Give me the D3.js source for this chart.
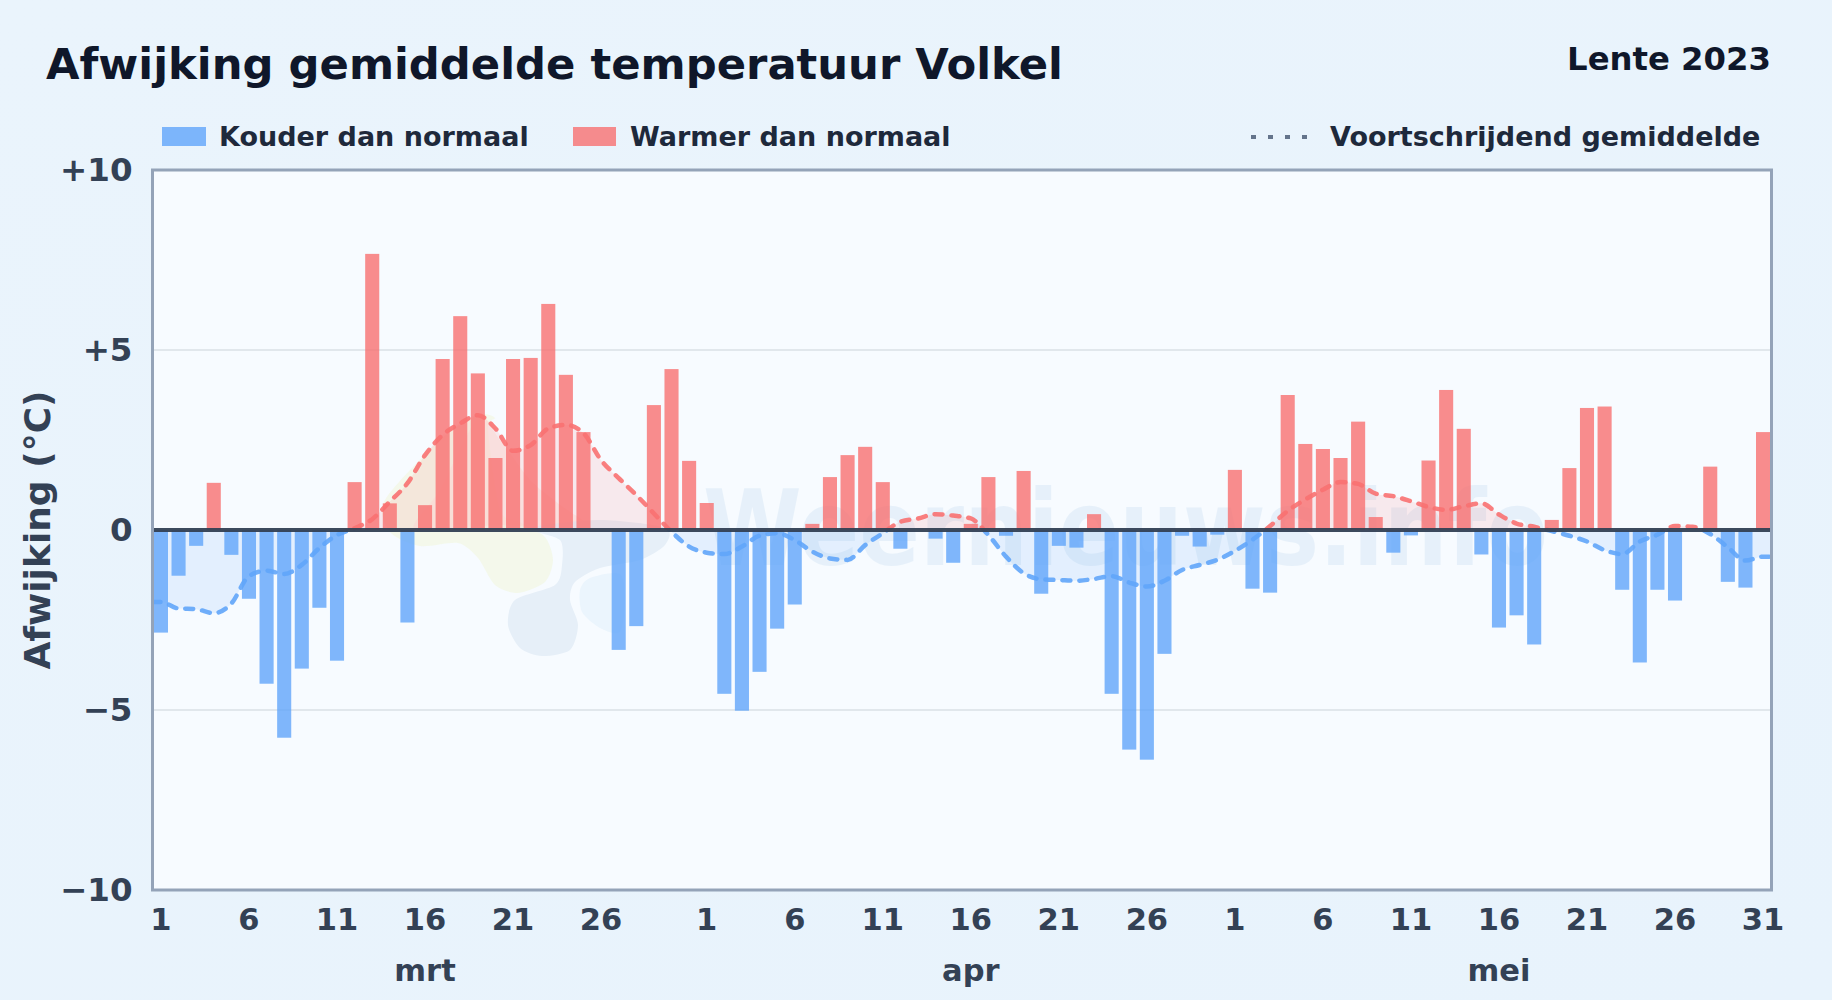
<!DOCTYPE html>
<html lang="nl">
<head>
<meta charset="utf-8">
<title>Afwijking gemiddelde temperatuur Volkel</title>
<script src="https://cdn.jsdelivr.net/npm/d3@7/dist/d3.min.js"></script>
<style>
html,body{margin:0;padding:0;background:#e9f3fc;}
svg{display:block;font-family:"DejaVu Sans",sans-serif;font-weight:700;}
</style>
</head>
<body>
<svg id="chart" width="1832" height="1000"></svg>
<script>
const months = ["mrt", "apr", "mei"];
const monthLengths = [31, 30, 31];
const labelledDaysMar = [1, 6, 11, 16, 21, 26];
const labelledDaysApr = [1, 6, 11, 16, 21, 26];
const labelledDaysMei = [1, 6, 11, 16, 21, 26, 31];
const yTicks = [-10, -5, 0, 5, 10];
const gridValues = [-5, 5];

const deviationMar = [-2.85,-1.27,-0.44,1.31,-0.69,-1.91,-4.27,-5.77,-3.85,-2.16,-3.63,1.33,7.67,0.74,-2.57,0.69,4.75,5.94,4.35,2.0,4.75,4.78,6.28,4.31,2.72,0,-3.33,-2.67,3.47,4.47,1.92];
const deviationApr = [0.75,-4.55,-5.02,-3.94,-2.74,-2.07,0.17,1.47,2.08,2.31,1.33,-0.52,0,-0.24,-0.91,0.17,1.47,-0.16,1.64,-1.77,-0.44,-0.49,0.44,-4.55,-6.1,-6.38,-3.44,-0.16,-0.46,-0.13];
const deviationMei = [1.67,-1.63,-1.74,3.75,2.39,2.25,2.0,3.01,0.36,-0.63,-0.15,1.93,3.89,2.81,-0.68,-2.71,-2.37,-3.18,0.28,1.72,3.39,3.43,-1.66,-3.68,-1.66,-1.96,0,1.76,-1.44,-1.6,2.72];

const trendMar = [-2.0,-2.18,-2.2,-2.31,-2.04,-1.28,-1.13,-1.22,-0.97,-0.5,-0.14,0.05,0.3,0.79,1.3,2.08,2.64,2.96,3.19,2.82,2.2,2.36,2.82,2.92,2.69,1.94,1.44,0.97,0.46,-0.05,-0.46];
const trendApr = [-0.63,-0.67,-0.46,-0.16,-0.09,-0.28,-0.6,-0.79,-0.83,-0.42,-0.09,0.23,0.32,0.44,0.4,0.32,-0.14,-0.74,-1.2,-1.37,-1.39,-1.41,-1.36,-1.28,-1.46,-1.57,-1.41,-1.11,-0.97,-0.83];
const trendMei = [-0.58,-0.27,0.11,0.53,0.85,1.12,1.33,1.28,1.01,0.94,0.8,0.64,0.56,0.66,0.74,0.43,0.18,0.09,-0.03,-0.16,-0.32,-0.56,-0.67,-0.32,-0.13,0.11,0.09,-0.11,-0.48,-0.85,-0.74];

const titleText = "Afwijking gemiddelde temperatuur Volkel";
const seasonText = "Lente 2023";
const yAxisText = "Afwijking (°C)";
const legendCold = "Kouder dan normaal";
const legendWarm = "Warmer dan normaal";
const legendTrend = "Voortschrijdend gemiddelde";
const watermarkText = "Weernieuws.info";

const blue = "#60a5fa", red = "#f87171";
const plot = {left: 152.5, right: 1771.5, top: 170, bottom: 890};

const deviation = [...deviationMar, ...deviationApr, ...deviationMei];
const trend = [...trendMar, ...trendApr, ...trendMei];
const labelled = {mrt: labelledDaysMar, apr: labelledDaysApr, mei: labelledDaysMei};
const days = [];
months.forEach((m, mi) => { for (let d = 1; d <= monthLengths[mi]; d++) days.push({month: m, day: d, key: m + d}); });
days.forEach((d, i) => { d.dev = deviation[i]; d.trend = trend[i]; });

const svg = d3.select("#chart");
const defs = svg.append("defs");
const bgGrad = defs.append("linearGradient").attr("id", "bg").attr("x1", 0).attr("y1", 0).attr("x2", 1).attr("y2", 1);
bgGrad.append("stop").attr("offset", 0).attr("stop-color", "#eaf4fc");
bgGrad.append("stop").attr("offset", 1).attr("stop-color", "#e8f3fc");

const x = d3.scaleBand().domain(days.map(d => d.key)).range([plot.left, plot.right]).paddingInner(0.2).paddingOuter(0.08);
const y = d3.scaleLinear().domain([-10, 10]).range([plot.bottom, plot.top]);
const cx = k => x(k) + x.bandwidth() / 2;

svg.append("rect").attr("width", 1832).attr("height", 1000).attr("fill", "url(#bg)");
svg.append("rect").attr("x", plot.left).attr("y", plot.top).attr("width", plot.right - plot.left).attr("height", plot.bottom - plot.top).attr("fill", "#f7fbff");

defs.append("clipPath").attr("id", "above").append("rect").attr("x", plot.left).attr("y", plot.top).attr("width", plot.right - plot.left).attr("height", y(0) - plot.top);
defs.append("clipPath").attr("id", "below").append("rect").attr("x", plot.left).attr("y", y(0)).attr("width", plot.right - plot.left).attr("height", plot.bottom - y(0));

// faint logo and wordmark behind the chart
const blob = d3.line().curve(d3.curveCardinalClosed.tension(0.2));
const logoShapes = [
  {fill: "#f2f8e6", o: 0.8, pts: [[385,500],[390,532],[420,546],[458,543],[478,558],[495,585],[518,593],[545,582],[553,560],[545,537],[520,522],[500,510],[488,430],[495,418],[478,415],[440,440]]},
  {fill: "#fbe8e2", o: 0.6, pts: [[415,530],[440,490],[478,418],[500,440],[530,480],[560,505],[590,530],[500,525]]},
  {fill: "#e6eff8", o: 1, pts: [[530,528],[560,540],[562,565],[555,585],[515,600],[508,625],[520,648],[542,656],[570,650],[578,625],[570,600],[575,582],[600,568],[640,560],[665,545],[665,528],[600,520]]},
  {fill: "#ebf5fd", o: 1, pts: [[580,590],[590,578],[620,574],[625,600],[620,632],[600,628],[582,612]]}
];
svg.append("g").selectAll("path").data(logoShapes).join("path")
  .attr("d", d => blob(d.pts)).attr("fill", d => d.fill).attr("opacity", d => d.o);
svg.append("text").attr("x", 703).attr("y", 565).attr("font-size", 105).attr("fill", "#4a90d0").attr("opacity", 0.09)
  .attr("textLength", 845).attr("lengthAdjust", "spacingAndGlyphs").text(watermarkText);

// grid
svg.append("g").selectAll("line").data(gridValues).join("line")
  .attr("x1", plot.left).attr("x2", plot.right).attr("y1", d => y(d)).attr("y2", d => y(d))
  .attr("stroke", "#e1e7ec").attr("stroke-width", 2);

// running-mean area and bars
const lineX = (d, i) => i === 0 ? plot.left : i === days.length + 1 ? plot.right : cx(days[i - 1].key);
const trendPts = [days[0].trend, ...trend, days[days.length - 1].trend];
const area = d3.area().x((d, i) => lineX(d, i)).y0(y(0)).y1(d => y(d)).curve(d3.curveMonotoneX);
const line = d3.line().x((d, i) => lineX(d, i)).y(d => y(d)).curve(d3.curveMonotoneX);
svg.append("path").attr("d", area(trendPts)).attr("fill", red).attr("opacity", 0.13).attr("clip-path", "url(#above)");
svg.append("path").attr("d", area(trendPts)).attr("fill", blue).attr("opacity", 0.13).attr("clip-path", "url(#below)");

svg.append("g").selectAll("rect").data(days.filter(d => d.dev !== 0)).join("rect")
  .attr("x", d => x(d.key)).attr("width", x.bandwidth())
  .attr("y", d => y(Math.max(0, d.dev)))
  .attr("height", d => Math.abs(y(d.dev) - y(0)))
  .attr("fill", d => d.dev < 0 ? blue : red).attr("opacity", 0.8);

[["url(#above)", red], ["url(#below)", blue]].forEach(([clip, color]) => {
  svg.append("path").attr("d", line(trendPts)).attr("fill", "none").attr("stroke", color).attr("stroke-width", 4.5)
    .attr("stroke-dasharray", "8 9").attr("stroke-linecap", "round").attr("opacity", 0.9).attr("clip-path", clip);
});

svg.append("line").attr("x1", plot.left).attr("x2", plot.right).attr("y1", y(0)).attr("y2", y(0))
  .attr("stroke", "#334155").attr("stroke-width", 4).attr("opacity", 0.95);
svg.append("rect").attr("x", plot.left).attr("y", plot.top).attr("width", plot.right - plot.left).attr("height", plot.bottom - plot.top)
  .attr("fill", "none").attr("stroke", "#94a3b8").attr("stroke-width", 3);

// axes
const fmtY = v => v > 0 ? "+" + v : v < 0 ? "\u2212" + Math.abs(v) : "0";
const yAxis = d3.axisLeft(y).tickValues(yTicks).tickFormat(fmtY).tickSize(0).tickPadding(20);
const gy = svg.append("g").attr("transform", `translate(${plot.left},0)`).call(yAxis);
gy.select(".domain").remove();
gy.selectAll("text").attr("font-size", 32.5).attr("font-family", "DejaVu Sans").attr("font-weight", 700).attr("fill", "#334155");

const dayTicks = days.filter(d => labelled[d.month].includes(d.day)).map(d => d.key);
const xAxis = d3.axisBottom(x).tickValues(dayTicks).tickFormat(k => days.find(d => d.key === k).day).tickSize(0).tickPadding(18);
const gx = svg.append("g").attr("transform", `translate(0,${plot.bottom})`).call(xAxis);
gx.select(".domain").remove();
gx.selectAll("text").attr("font-size", 30.5).attr("font-family", "DejaVu Sans").attr("font-weight", 700).attr("fill", "#334155");

svg.append("g").selectAll("text").data(months).join("text")
  .attr("x", m => cx(m + "16")).attr("y", 981).attr("text-anchor", "middle")
  .attr("font-size", 30.5).attr("fill", "#334155").text(m => m);

svg.append("text").attr("transform", "translate(50,530) rotate(-90)").attr("text-anchor", "middle")
  .attr("font-size", 36).attr("fill", "#334155").text(yAxisText);

// titles
svg.append("text").attr("x", 46).attr("y", 79).attr("font-size", 43.3).attr("fill", "#0f172a").text(titleText);
svg.append("text").attr("x", 1771).attr("y", 70).attr("text-anchor", "end").attr("font-size", 32.3).attr("fill", "#0f172a").text(seasonText);

// legend
const legendY = 146;
svg.append("rect").attr("x", 162).attr("y", 127).attr("width", 44).attr("height", 19).attr("fill", blue).attr("opacity", 0.8);
svg.append("text").attr("x", 219).attr("y", legendY).attr("font-size", 27).attr("fill", "#1e293b").text(legendCold);
svg.append("rect").attr("x", 573).attr("y", 127).attr("width", 43).attr("height", 19).attr("fill", red).attr("opacity", 0.8);
svg.append("text").attr("x", 630).attr("y", legendY).attr("font-size", 27).attr("fill", "#1e293b").text(legendWarm);
svg.append("line").attr("x1", 1251).attr("x2", 1308).attr("y1", 137).attr("y2", 137)
  .attr("stroke", "#64748b").attr("stroke-width", 4).attr("stroke-dasharray", "5 12");
svg.append("text").attr("x", 1330).attr("y", legendY).attr("font-size", 27).attr("fill", "#1e293b").text(legendTrend);
</script>
</body>
</html>
